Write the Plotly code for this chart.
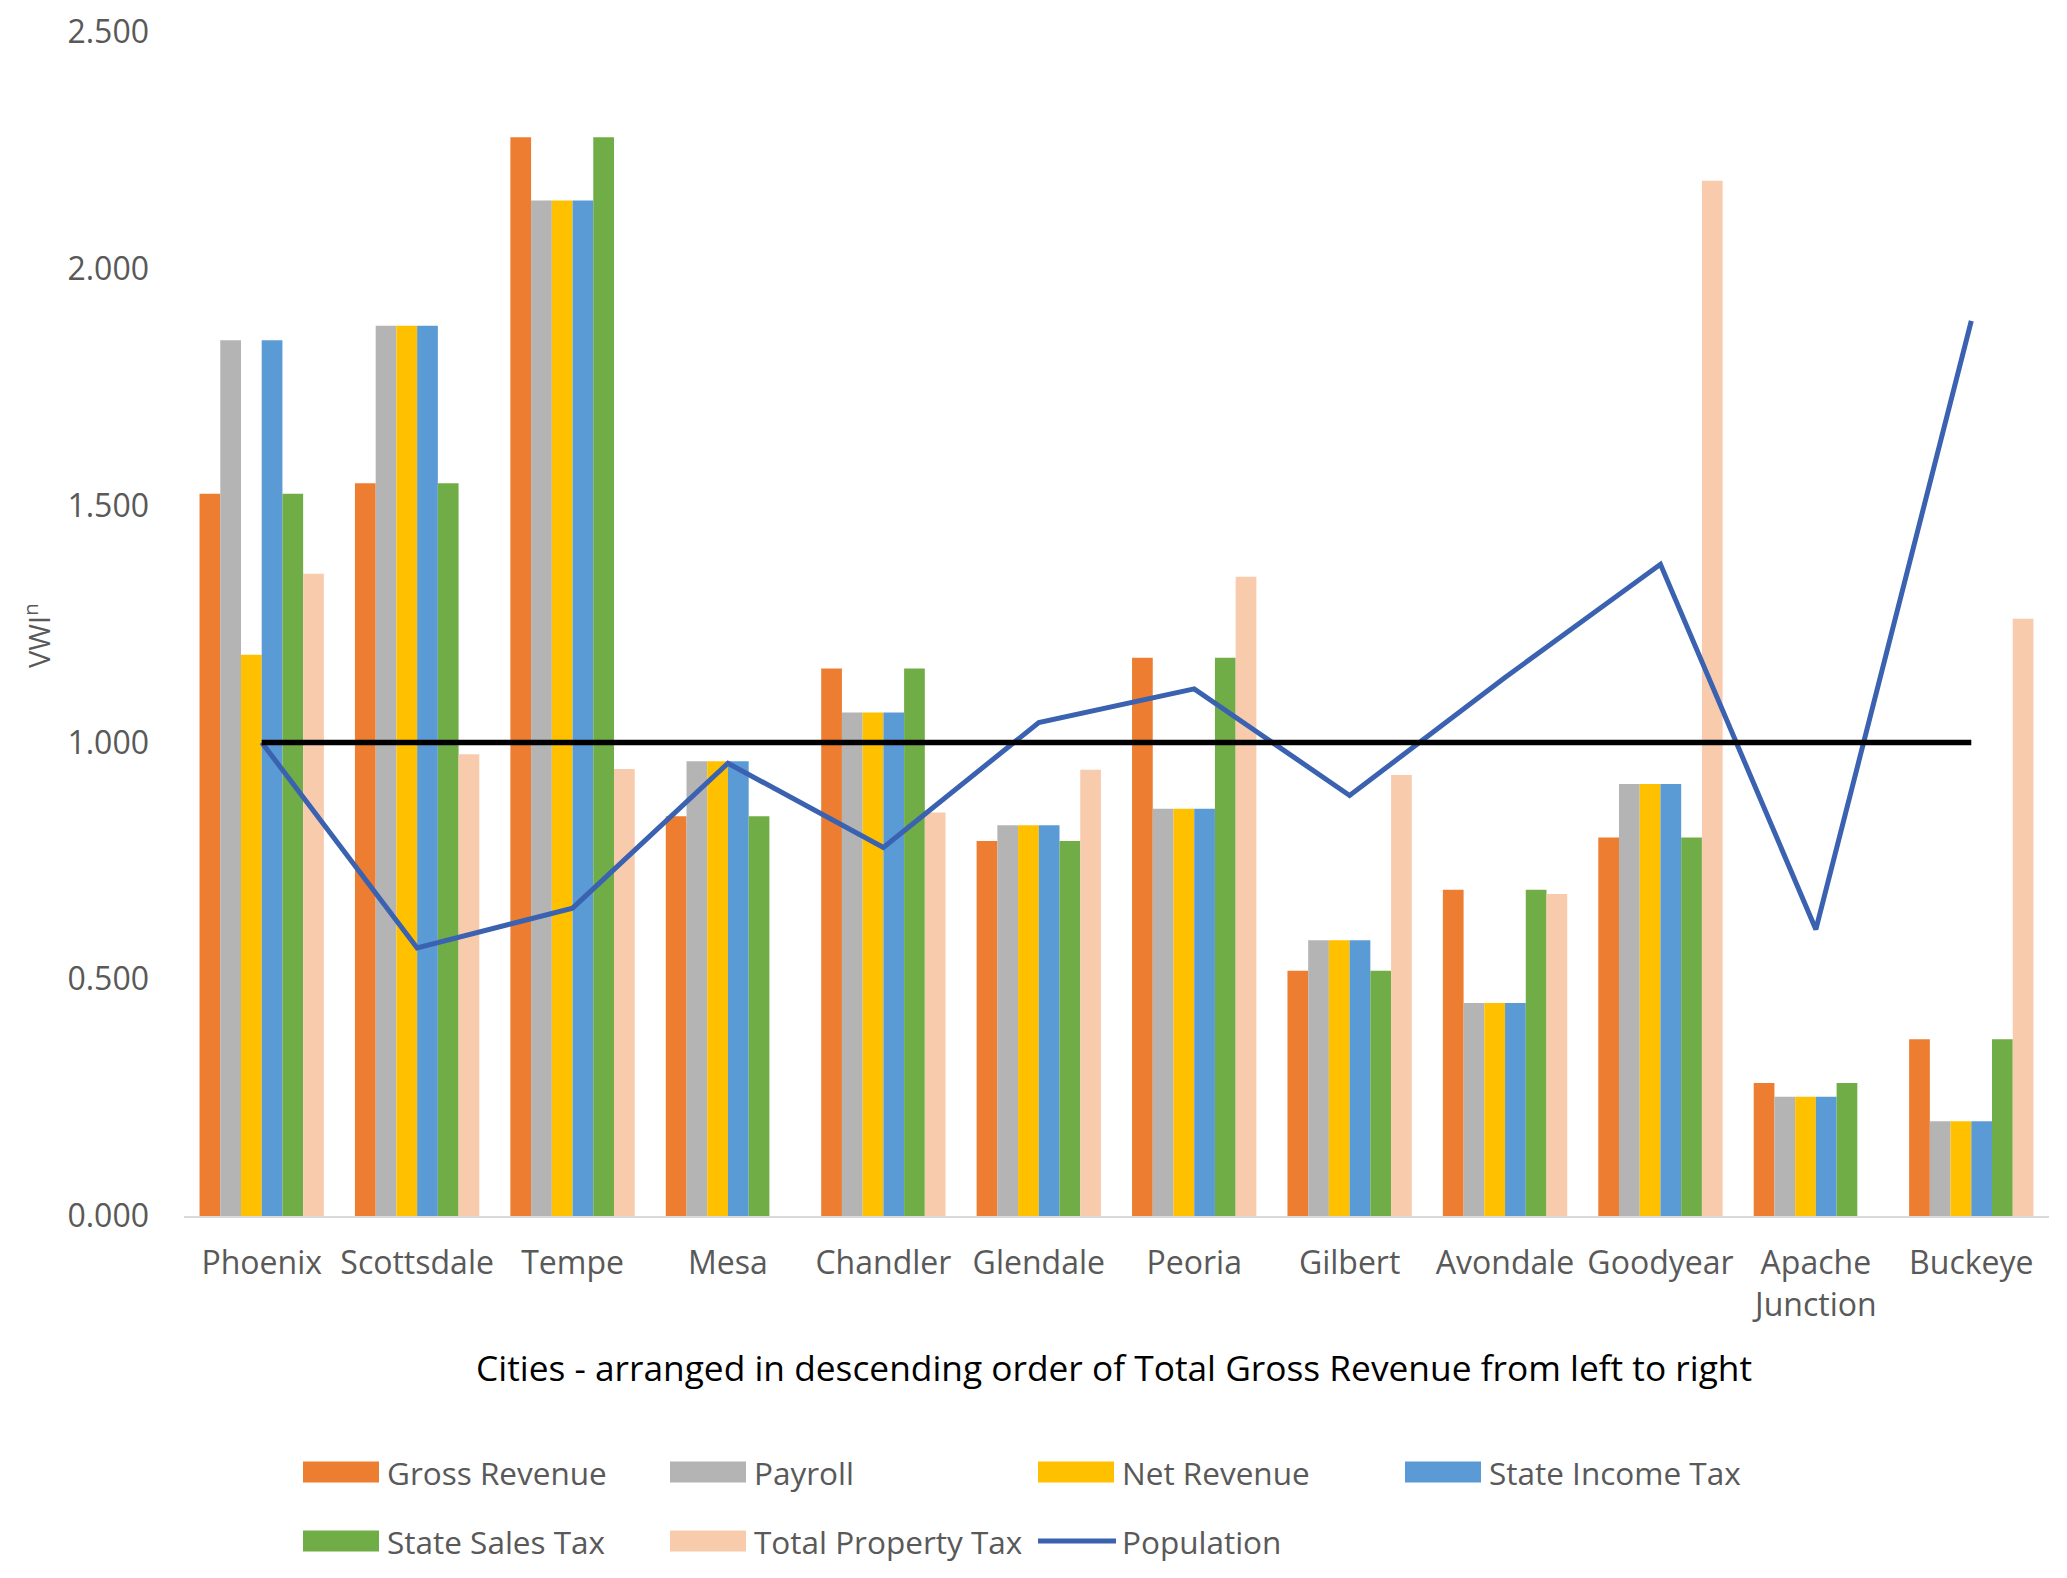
import plotly.graph_objects as go

cities = ["Phoenix", "Scottsdale", "Tempe", "Mesa", "Chandler", "Glendale", "Peoria",
          "Gilbert", "Avondale", "Goodyear", "Apache<br>Junction", "Buckeye"]

gross_revenue = [1.525, 1.547, 2.278, 0.844, 1.156, 0.792, 1.179, 0.518, 0.689, 0.799, 0.281, 0.373]
payroll = [1.849, 1.880, 2.144, 0.960, 1.063, 0.825, 0.860, 0.582, 0.450, 0.912, 0.252, 0.200]
net_revenue = [1.185, 1.880, 2.144, 0.960, 1.063, 0.825, 0.860, 0.582, 0.450, 0.912, 0.252, 0.200]
state_income_tax = [1.849, 1.880, 2.144, 0.960, 1.063, 0.825, 0.860, 0.582, 0.450, 0.912, 0.252, 0.200]
state_sales_tax = [1.525, 1.547, 2.278, 0.844, 1.156, 0.792, 1.179, 0.518, 0.689, 0.799, 0.281, 0.373]
total_property_tax = [1.356, 0.975, 0.944, None, 0.852, 0.942, 1.350, 0.931, 0.680, 2.186, None, 1.261]
population = [1.000, 0.566, 0.650, 0.956, 0.778, 1.042, 1.113, 0.888, 1.137, 1.376, 0.605, 1.890]
benchmark = [1.0, 1.0, 1.0, 1.0, 1.0, 1.0, 1.0, 1.0, 1.0, 1.0, 1.0, 1.0]

y_ticks = [0.0, 0.5, 1.0, 1.5, 2.0, 2.5]

bar_series = [
    ("Gross Revenue", gross_revenue, "#ED7D31"),
    ("Payroll", payroll, "#B4B4B4"),
    ("Net Revenue", net_revenue, "#FFC000"),
    ("State Income Tax", state_income_tax, "#5B9BD5"),
    ("State Sales Tax", state_sales_tax, "#70AD47"),
    ("Total Property Tax", total_property_tax, "#F8CBAD"),
]
POP_COLOR = "#3A62B0"
FONT = "Open Sans"
TXT = "#595959"

W, H = 2067, 1578
L, R, T, B = 176, 26, 24, 370
PW, PH = W - L - R, H - T - B


def px(x):
    return (x - L) / PW


def py(y):
    return (H - B - y) / PH


fig = go.Figure()
for name, vals, col in bar_series:
    fig.add_trace(go.Bar(name=name, x=cities, y=vals, marker=dict(color=col, line=dict(width=0)),
                         showlegend=False))

fig.add_trace(go.Scatter(name="Population", x=cities, y=population, mode="lines",
                         line=dict(color=POP_COLOR, width=5), showlegend=False))
fig.add_trace(go.Scatter(name="Benchmark", x=cities, y=benchmark, mode="lines",
                         line=dict(color="#000000", width=5.5), showlegend=False))

# Manual legend (Excel style wide swatches)
legend_items = [
    ("Gross Revenue", "#ED7D31", "bar", 295, 1464),
    ("Payroll", "#B4B4B4", "bar", 662, 1464),
    ("Net Revenue", "#FFC000", "bar", 1030, 1464),
    ("State Income Tax", "#5B9BD5", "bar", 1397, 1464),
    ("State Sales Tax", "#70AD47", "bar", 295, 1533),
    ("Total Property Tax", "#F8CBAD", "bar", 662, 1533),
    ("Population", POP_COLOR, "line", 1030, 1533),
]
shapes = []
annotations = []
for name, col, kind, x0, yc in legend_items:
    if kind == "bar":
        shapes.append(dict(type="rect", xref="paper", yref="paper",
                           x0=px(x0), x1=px(x0 + 76), y0=py(yc - 10.5), y1=py(yc + 10.5),
                           fillcolor=col, line=dict(width=0)))
    else:
        shapes.append(dict(type="line", xref="paper", yref="paper",
                           x0=px(x0), x1=px(x0 + 78), y0=py(yc), y1=py(yc),
                           line=dict(color=col, width=5)))
    annotations.append(dict(text=name, xref="paper", yref="paper", x=px(x0 + 82), y=py(yc),
                            xanchor="left", yanchor="middle", showarrow=False,
                            font=dict(family=FONT, size=31.5, color=TXT)))

annotations.append(dict(text="Cities - arranged in descending order of Total Gross Revenue from left to right",
                        xref="paper", yref="paper", x=px(1106), y=py(1359),
                        xanchor="center", yanchor="middle", showarrow=False,
                        font=dict(family=FONT, size=35.3, color="#000000")))
annotations.append(dict(text="VWI<sup>n</sup>", xref="paper", yref="paper", x=px(29), y=py(628),
                        xanchor="center", yanchor="middle", showarrow=False, textangle=-90,
                        font=dict(family=FONT, size=29, color=TXT)))

fig.update_layout(
    width=W, height=H,
    margin=dict(l=L, r=R, t=T, b=B),
    paper_bgcolor="white", plot_bgcolor="white",
    barmode="group", bargap=0.2, bargroupgap=0,
    shapes=shapes, annotations=annotations,
    font=dict(family=FONT, size=32, color=TXT),
)
fig.update_xaxes(type="category", showgrid=False, showline=True, linecolor="#D9D9D9", linewidth=2,
                 ticks="", tickfont=dict(family=FONT, size=32, color=TXT), ticklabelstandoff=18,
                 zeroline=False, automargin=False)
fig.update_yaxes(range=[0, 2.5], tickvals=y_ticks, tickformat=".3f", showgrid=False, showline=False,
                 zeroline=False, ticks="", tickfont=dict(family=FONT, size=32, color=TXT),
                 ticklabelstandoff=34, ticklabeloverflow="allow", automargin=False)

fig.write_html("out.html")
